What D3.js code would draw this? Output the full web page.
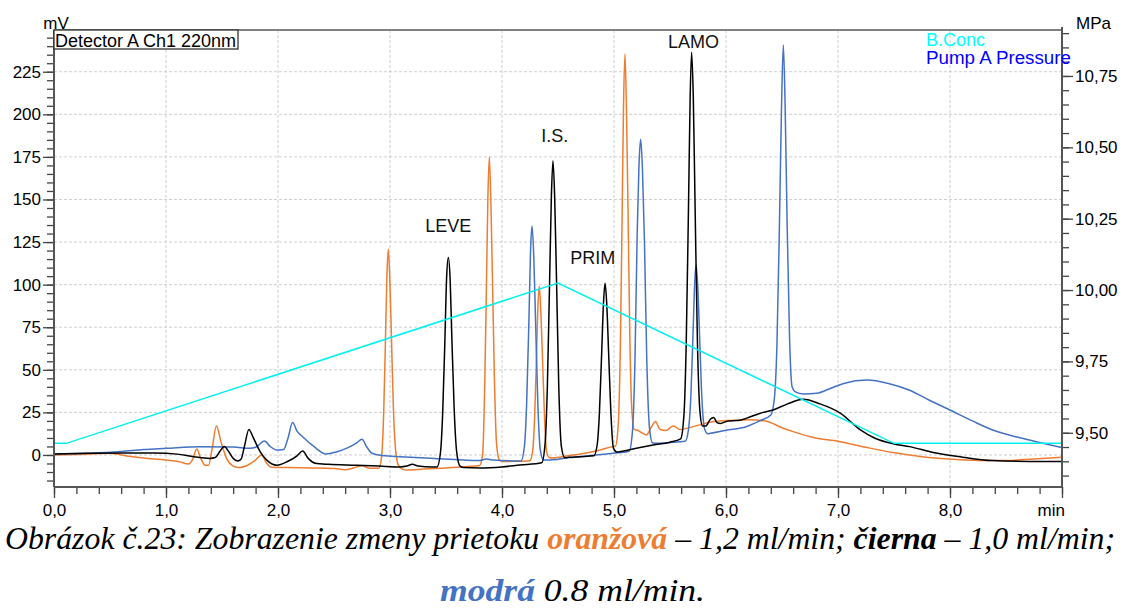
<!DOCTYPE html>
<html><head><meta charset="utf-8">
<script src="https://cdn.jsdelivr.net/npm/d3@7"></script>
<style>body{margin:0;background:#fff}svg{display:block}</style>
</head><body>
<svg id="c" width="1125" height="608"></svg>
<script>
// ---------------- DATA ----------------
// time (min), signal (mV)
const orange = [[0,0],[0.3,0.5],[0.5,1],[0.65,-0.6],[0.8,-1.8],[1.0,-2.9],[1.12,-4],[1.2,-5.3],[1.235,-3],[1.275,3.5],[1.31,-2],[1.35,-6],[1.38,-6],[1.41,3],[1.45,17],[1.49,8],[1.54,-2],[1.6,-6.5],[1.65,-7.4],[1.72,-6.3],[1.79,-3.5],[1.855,0],[1.895,-4.5],[1.94,-7.2],[2.1,-7.4],[2.3,-7.6],[2.5,-8],[2.6,-8.6],[2.68,-7.5],[2.75,-6.3],[2.82,-7.8],
 [2.90,-7.8],[2.925,-1],[2.945,28],[2.96,69],[2.972,104],[2.985,121],[3.0,100],[3.013,69],[3.03,28],[3.05,3],[3.075,-6],[3.12,-8.6],[3.15,-8.8],
 [3.3,-8.3],[3.5,-7.6],[3.7,-6.8],
 [3.80,-6.2],[3.827,0],[3.847,45],[3.862,103],[3.874,151],[3.887,175],[3.902,145],[3.915,103],[3.932,45],[3.952,6],[3.977,-3],[4.0,-3.9],
 [4.1,-3.7],[4.22,-3.5],
 [4.248,-3.4],[4.273,2],[4.293,25],[4.308,58],[4.32,86],[4.333,99],[4.348,82],[4.361,58],[4.378,25],[4.398,2],[4.423,-1.5],[4.45,-1.8],
 [4.6,-0.3],[4.7,0.6],[4.85,2.5],[4.99,4.9],
 [5.013,5.2],[5.038,18],[5.058,69],[5.073,143],[5.085,205],[5.098,235.5],[5.112,200],[5.125,145],[5.14,75],[5.158,28],[5.18,15],[5.21,14.5],
 [5.25,13],[5.29,11.7],[5.33,16],[5.37,19.6],[5.41,15],[5.46,14.3],[5.53,17],[5.59,15],[5.7,16.5],[5.89,19.6],[6.05,20.3],[6.2,20.7],[6.36,19.8],[6.5,16],[6.6,13.7],[6.8,10],[7.02,7.8],[7.25,4.5],[7.49,1.4],[7.75,-1],[8.03,-2.5],[8.3,-3.3],[8.5,-3.3],[8.75,-2.3],[9.0,-1.4]];

const black = [[0,0.5],[0.3,1],[0.6,1.2],[0.9,1.2],[1.1,0.5],[1.25,-1],[1.39,-2],[1.44,-1.5],[1.48,2],[1.52,5],[1.56,2],[1.6,-2],[1.64,-3.5],[1.67,-2.5],[1.70,5],[1.74,15],[1.78,10],[1.84,2],[1.9,-3],[1.99,-6],[2.08,-4],[2.17,-0.5],[2.22,2.3],[2.27,-2],[2.33,-4.8],[2.45,-5.5],[2.7,-6],[2.9,-6.5],[3.09,-7],[3.15,-6.5],[3.2,-5.5],[3.25,-6.5],[3.38,-7],
 [3.42,-7],[3.45,1],[3.47,24],[3.49,67],[3.506,105],[3.521,116],[3.537,103],[3.553,67],[3.573,27],[3.595,2],[3.625,-6.5],[3.66,-7.4],
 [3.8,-7.6],[4.0,-7],[4.16,-5.9],
 [4.355,-4.6],[4.385,7],[4.405,40],[4.425,102],[4.441,152],[4.455,172.7],[4.47,152],[4.487,102],[4.507,40],[4.53,5],[4.56,-1.6],[4.6,-1.4],
 [4.7,-1],
 [4.82,-0.5],[4.85,6],[4.87,25],[4.89,60],[4.906,89],[4.92,100.8],[4.935,89],[4.952,60],[4.972,25],[4.995,4],[5.025,1.8],[5.06,2],
 [5.2,4],[5.35,5.9],[5.5,7.5],
 [5.595,9.5],[5.625,24],[5.645,66],[5.665,145],[5.68,210],[5.693,236.5],[5.708,210],[5.724,146],[5.745,66],[5.768,25],[5.79,17],
 [5.82,17],[5.86,21],[5.89,22],[5.92,19],[5.95,18.5],[6.02,20],[6.1,20.2],[6.18,21.5],[6.3,24.4],[6.42,26.4],[6.55,30],[6.69,32.7],[6.84,30],[7.02,24.6],[7.2,14.7],[7.33,9.8],[7.5,6.5],[7.64,4.9],[7.85,1.5],[8.09,-1],[8.38,-3.3],[8.7,-3.8],[9.0,-3.9]];

const blue = [[0,0.6],[0.3,1],[0.6,2],[0.8,3.2],[1.0,3.9],[1.3,4.9],[1.6,4.7],[1.75,3.9],[1.8,4.5],[1.88,8.2],[1.93,5],[1.99,2.9],[2.05,3.2],[2.09,10],[2.13,19],[2.17,14],[2.22,10.7],[2.32,5],[2.43,0.6],[2.52,1.8],[2.61,3.9],[2.7,7],[2.75,9.2],[2.79,5],[2.84,1],[2.95,-0.5],[3.09,-1],[3.4,-2],[3.8,-3.3],[3.86,-2.3],[3.92,-3],
 [4.17,-3.5],[4.2,5],[4.22,30],[4.24,78],[4.255,120],[4.268,134.4],[4.283,118],[4.3,78],[4.32,30],[4.342,3],[4.37,-2.9],[4.4,-3],
 [4.6,-1.5],[4.8,-0.3],[4.99,1],
 [5.135,2.2],[5.165,14],[5.187,55],[5.207,130],[5.223,170],[5.238,185.3],[5.254,168],[5.272,125],[5.293,55],[5.318,15],[5.345,7],[5.38,6.9],
 [5.5,7.3],
 [5.635,8],[5.665,15],[5.686,34],[5.705,70],[5.72,100],[5.732,111.5],[5.747,100],[5.764,70],[5.785,33],[5.81,15],[5.84,12.5],[5.86,12.7],
 [6.0,14.5],[6.18,16.6],[6.3,20],
 [6.4,23.5],[6.43,32],[6.455,65],[6.477,135],[6.496,205],[6.512,240.7],[6.528,205],[6.546,135],[6.567,70],[6.59,40],[6.62,37],[6.69,35.8],[6.81,36.2],[6.93,39],[7.05,42],[7.26,44],[7.45,42],[7.64,38],[7.82,32],[8.0,26.4],[8.2,20],[8.38,14.7],[8.6,10.5],[8.77,7.8],[9.0,4.3]];

// B.Conc gradient (%)
const bConcTimes  = [0, 0.11, 4.5, 7.5, 9.0];
const bConcValues = [10, 10, 60, 10, 10];

const xTicks = [0,1,2,3,4,5,6,7,8];
const yLeftTicks = [0,25,50,75,100,125,150,175,200,225];
const yRightTicks = [9.50,9.75,10.00,10.25,10.50,10.75];

const peakLabels = [
  {name:"LEVE", t:3.52, v:131},
  {name:"I.S.", t:4.47, v:184},
  {name:"PRIM", t:4.81, v:112},
  {name:"LAMO", t:5.71, v:239}
];

// ---------------- CHART ----------------
const svg = d3.select("#c");
const L=54, R=1062, T=30, B=487;
const x  = d3.scaleLinear().domain([0,9]).range([L,R]);
const yL = d3.scaleLinear().domain([-18.8,249.5]).range([B,T]);
const yR = d3.scaleLinear().domain([9.31,10.911]).range([B,T]);
const yC = d3.scaleLinear().domain([0,100]).range([yL(-12), yL(176.3)]);
const font = "Arial, 'Liberation Sans', sans-serif";

// grid
const g = svg.append("g").attr("stroke","#cfcfcf").attr("stroke-width",1).attr("stroke-dasharray","3,2");
[1,2,3,4,5,6,7,8].forEach(t=>g.append("line").attr("x1",x(t)).attr("x2",x(t)).attr("y1",T).attr("y2",B));
yLeftTicks.forEach(v=>g.append("line").attr("x1",L).attr("x2",R).attr("y1",yL(v)).attr("y2",yL(v)));

// clip
svg.append("clipPath").attr("id","pa").append("rect").attr("x",L).attr("y",T).attr("width",R-L).attr("height",B-T);
const line = d3.line().x(d=>x(d[0])).y(d=>yL(d[1])).curve(d3.curveMonotoneX);
const plot = svg.append("g").attr("clip-path","url(#pa)").attr("fill","none");
plot.append("path").datum(orange).attr("d",line).attr("stroke","#ED7D31").attr("stroke-width",1.5);
plot.append("path").datum(blue).attr("d",line).attr("stroke","#4472C4").attr("stroke-width",1.5);
plot.append("path").datum(black).attr("d",line).attr("stroke","#000").attr("stroke-width",1.5);
const concLine = d3.line().x(d=>x(d[0])).y(d=>yC(d[1]));
plot.append("path").datum(bConcTimes.map((t,i)=>[t,bConcValues[i]])).attr("d",concLine).attr("stroke","#00F0F0").attr("stroke-width",1.5);

// axes
const fmt1 = d=>d3.format(".1f")(d).replace(".",",");
const fmt2 = d=>d3.format(".2f")(d).replace(".",",");
function styleAxis(sel){ sel.select(".domain").remove(); sel.selectAll("line").attr("stroke","#444").attr("stroke-width",1.3);
  sel.selectAll("text").attr("font-family",font).attr("font-size",17).attr("fill","#000"); }
svg.append("g").attr("transform",`translate(0,${B})`).call(d3.axisBottom(x).tickValues(d3.range(0,9.01,0.2)).tickSize(7).tickFormat("")).call(styleAxis);
svg.append("g").attr("transform",`translate(0,${B})`).call(d3.axisBottom(x).tickValues(xTicks.concat([9])).tickSize(11).tickPadding(6).tickFormat(d=>d===9?"":fmt1(d))).call(styleAxis);
svg.append("g").attr("transform",`translate(${L},0)`).call(d3.axisLeft(yL).tickValues(d3.range(-15,246,5)).tickSize(7).tickFormat("")).call(styleAxis);
svg.append("g").attr("transform",`translate(${L},0)`).call(d3.axisLeft(yL).tickValues(yLeftTicks).tickSize(11).tickPadding(2).tickFormat(d3.format("d"))).call(styleAxis);
svg.append("g").attr("transform",`translate(${R},0)`).call(d3.axisRight(yR).tickValues(d3.range(9.35,10.91,0.05)).tickSize(7).tickFormat("")).call(styleAxis);
svg.append("g").attr("transform",`translate(${R},0)`).call(d3.axisRight(yR).tickValues(yRightTicks).tickSize(11).tickPadding(2).tickFormat(fmt2)).call(styleAxis);

// frame
svg.append("line").attr("x1",L).attr("x2",R).attr("y1",T).attr("y2",T).attr("stroke","#808080").attr("stroke-width",2);
svg.append("line").attr("x1",L).attr("x2",L).attr("y1",T).attr("y2",B).attr("stroke","#555").attr("stroke-width",2);
svg.append("line").attr("x1",R).attr("x2",R).attr("y1",T-3).attr("y2",B).attr("stroke","#555").attr("stroke-width",2);
svg.append("line").attr("x1",L).attr("x2",R).attr("y1",B).attr("y2",B).attr("stroke","#555").attr("stroke-width",2);

// axis titles
svg.append("text").attr("x",56).attr("y",29).attr("text-anchor","middle").attr("font-family",font).attr("font-size",17).text("mV");
svg.append("text").attr("x",1076).attr("y",29).attr("font-family",font).attr("font-size",17).text("MPa");
svg.append("text").attr("x",1065).attr("y",516).attr("text-anchor","end").attr("font-family",font).attr("font-size",17).text("min");

// detector box
svg.append("rect").attr("x",L).attr("y",T).attr("width",184).attr("height",19).attr("fill","#fff").attr("stroke","#333").attr("stroke-width",1.3);
svg.append("text").attr("x",55).attr("y",46.5).attr("font-family",font).attr("font-size",18).text("Detector A Ch1 220nm");

// legend
svg.append("text").attr("x",926).attr("y",46).attr("font-family",font).attr("font-size",18).attr("fill","#00FFFF").text("B.Conc");
svg.append("text").attr("x",926).attr("y",64).attr("font-family",font).attr("font-size",18).attr("fill","#0000FF").attr("textLength",145).attr("lengthAdjust","spacingAndGlyphs").text("Pump A Pressure");

// peak labels
svg.append("g").selectAll("text").data(peakLabels).join("text")
  .attr("x",d=>x(d.t)).attr("y",d=>yL(d.v)).attr("text-anchor","middle")
  .attr("font-family",font).attr("font-size",18).attr("fill","#111").text(d=>d.name);

// caption
const serif = "'Liberation Serif','Times New Roman',serif";
const cap1 = svg.append("text").attr("x",5).attr("y",549).attr("font-family",serif).attr("font-style","italic").attr("font-size",31)
  .attr("textLength",1110).attr("lengthAdjust","spacingAndGlyphs");
cap1.append("tspan").text("Obrázok č.23: Zobrazenie zmeny prietoku ");
cap1.append("tspan").attr("font-weight","bold").attr("fill","#ED7D31").text("oranžová");
cap1.append("tspan").text(" – 1,2 ml/min; ");
cap1.append("tspan").attr("font-weight","bold").text("čierna");
cap1.append("tspan").text(" – 1,0 ml/min;");
const cap2 = svg.append("text").attr("x",440).attr("y",601).attr("font-family",serif).attr("font-style","italic").attr("font-size",31)
  .attr("textLength",265).attr("lengthAdjust","spacingAndGlyphs");
cap2.append("tspan").attr("font-weight","bold").attr("fill","#4472C4").text("modrá");
cap2.append("tspan").text(" 0.8 ml/min.");
</script>
</body></html>
